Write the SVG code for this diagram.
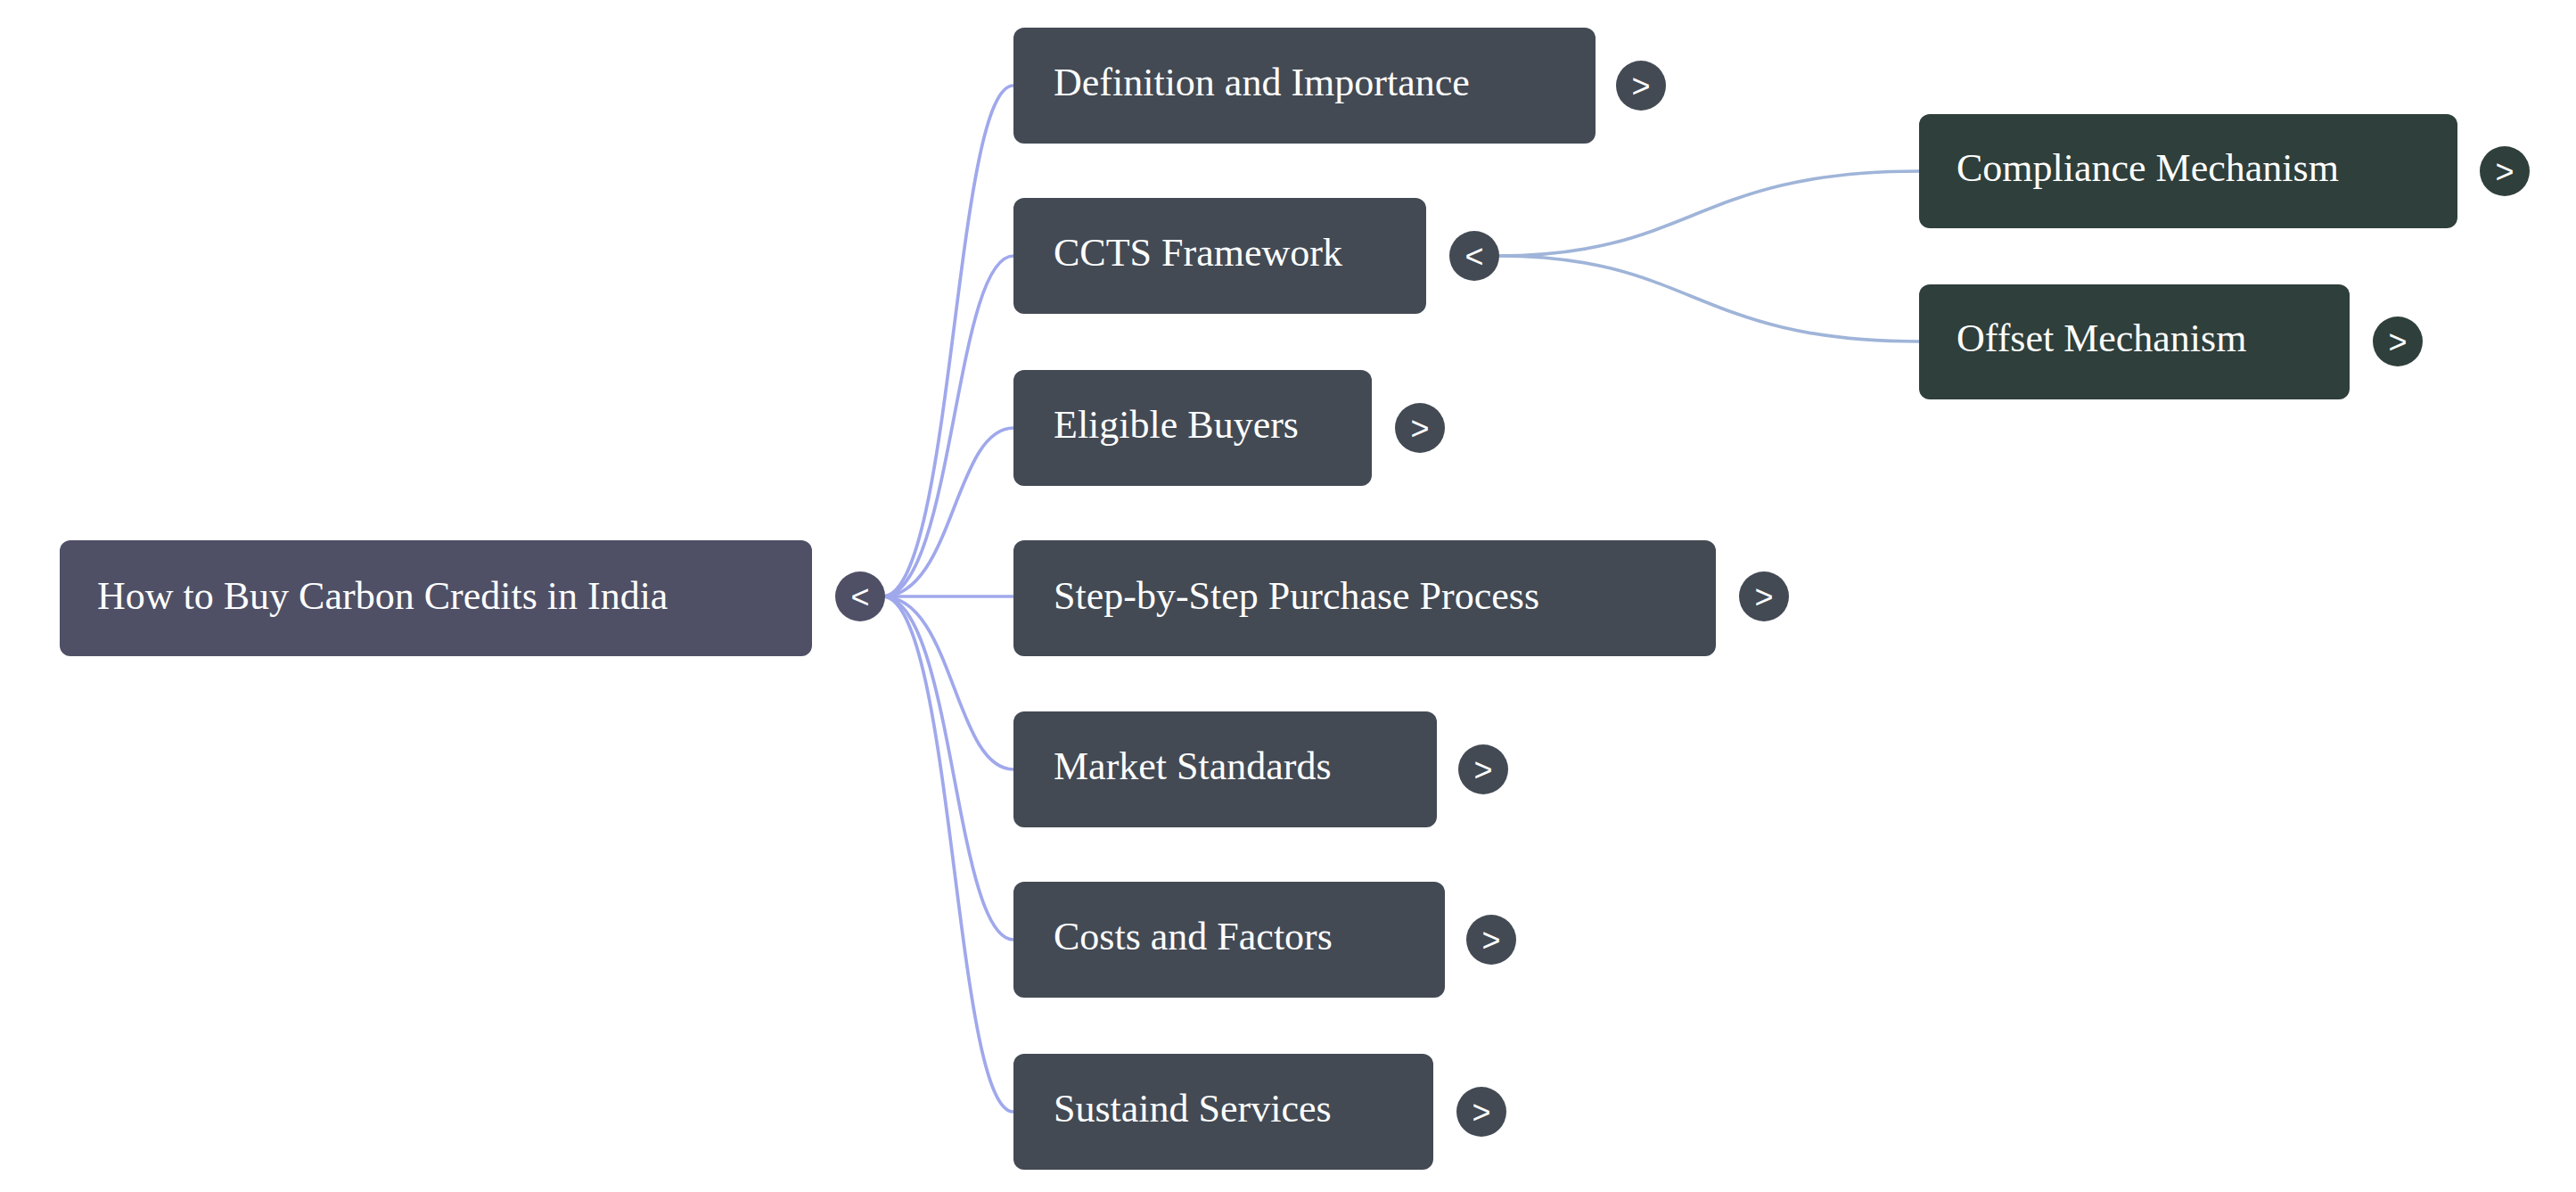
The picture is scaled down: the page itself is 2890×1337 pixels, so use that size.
<svg xmlns="http://www.w3.org/2000/svg" width="2890" height="1337" viewBox="0 0 2890 1337">
<style>
.t{font-family:"Liberation Serif",serif;font-size:44px;fill:#fff}
.s{font-family:"Liberation Sans",sans-serif;font-size:36px;fill:#fff;text-anchor:middle}
.n{fill:#434a54}
.g{fill:#2f3f3b}
.l1{fill:none;stroke:#a0a8ec;stroke-width:3.7}
.l2{fill:none;stroke:#9fb4d8;stroke-width:3.7}
</style>
<rect width="2890" height="1337" fill="#fff"/>
<g id="connectors">
<path class="l1" d="M990 669 C1070 669,1070 96,1137 96"/>
<path class="l1" d="M990 669 C1070 669,1070 287,1137 287"/>
<path class="l1" d="M990 669 C1070 669,1070 480,1137 480"/>
<path class="l1" d="M990 669 L1137 669"/>
<path class="l1" d="M990 669 C1070 669,1070 863,1137 863"/>
<path class="l1" d="M990 669 C1070 669,1070 1054,1137 1054"/>
<path class="l1" d="M990 669 C1070 669,1070 1247,1137 1247"/>
<path class="l2" d="M1680 287 C1900 287,1900 192,2153 192"/>
<path class="l2" d="M1680 287 C1900 287,1900 383,2153 383"/>
</g>
<g id="root"><rect x="67" y="606" width="844" height="130" rx="12" fill="#4f5066"/><text class="t" x="109" y="683">How to Buy Carbon Credits in India</text><circle cx="965" cy="669" r="28" fill="#4f5066"/><text class="s" x="965" y="682">&lt;</text></g>
<g id="n1"><rect class="n" x="1137" y="31" width="653" height="130" rx="12"/><text class="t" x="1182" y="107">Definition and Importance</text><circle class="n" cx="1841" cy="96" r="28"/><text class="s" x="1841" y="109">&gt;</text></g>
<g id="n2"><rect class="n" x="1137" y="222" width="463" height="130" rx="12"/><text class="t" x="1182" y="298">CCTS Framework</text><circle class="n" cx="1654" cy="287" r="28"/><text class="s" x="1654" y="300">&lt;</text></g>
<g id="n3"><rect class="n" x="1137" y="415" width="402" height="130" rx="12"/><text class="t" x="1182" y="491">Eligible Buyers</text><circle class="n" cx="1593" cy="480" r="28"/><text class="s" x="1593" y="493">&gt;</text></g>
<g id="n4"><rect class="n" x="1137" y="606" width="788" height="130" rx="12"/><text class="t" x="1182" y="683">Step-by-Step Purchase Process</text><circle class="n" cx="1979" cy="669" r="28"/><text class="s" x="1979" y="682">&gt;</text></g>
<g id="n5"><rect class="n" x="1137" y="798" width="475" height="130" rx="12"/><text class="t" x="1182" y="874">Market Standards</text><circle class="n" cx="1664" cy="863" r="28"/><text class="s" x="1664" y="876">&gt;</text></g>
<g id="n6"><rect class="n" x="1137" y="989" width="484" height="130" rx="12"/><text class="t" x="1182" y="1065">Costs and Factors</text><circle class="n" cx="1673" cy="1054" r="28"/><text class="s" x="1673" y="1067">&gt;</text></g>
<g id="n7"><rect class="n" x="1137" y="1182" width="471" height="130" rx="12"/><text class="t" x="1182" y="1258">Sustaind Services</text><circle class="n" cx="1662" cy="1247" r="28"/><text class="s" x="1662" y="1260">&gt;</text></g>
<g id="n8"><rect class="g" x="2153" y="128" width="604" height="128" rx="12"/><text class="t" x="2195" y="203">Compliance Mechanism</text><circle class="g" cx="2810" cy="192" r="28"/><text class="s" x="2810" y="205">&gt;</text></g>
<g id="n9"><rect class="g" x="2153" y="319" width="483" height="129" rx="12"/><text class="t" x="2195" y="394">Offset Mechanism</text><circle class="g" cx="2690" cy="383" r="28"/><text class="s" x="2690" y="396">&gt;</text></g>
</svg>
